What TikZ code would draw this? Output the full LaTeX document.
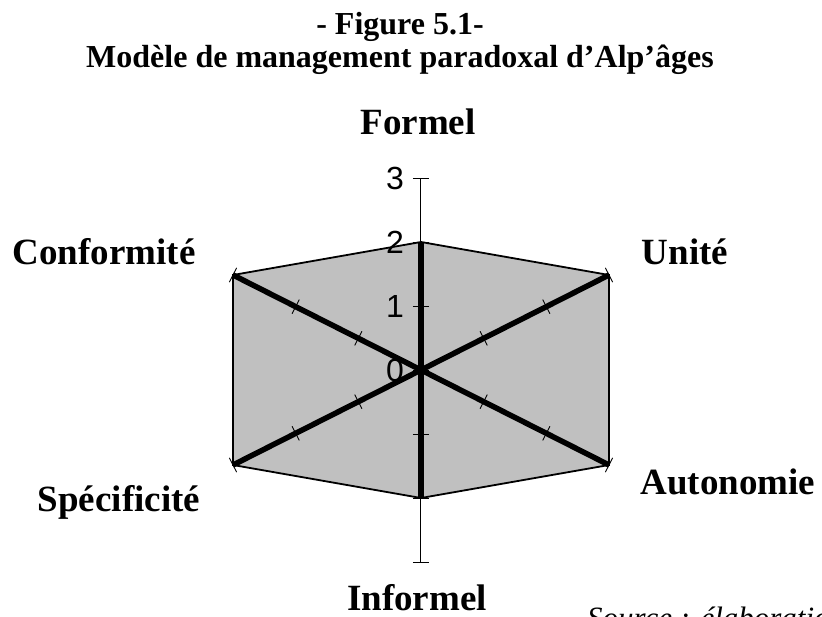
\documentclass[tikz,border=0pt]{standalone}
\usepackage{fontspec}
\setmainfont{Liberation Serif}
\newfontfamily\axisfont{Liberation Sans}
\usetikzlibrary{calc}
\definecolor{radargray}{RGB}{192,192,192}

\begin{document}
\begin{tikzpicture}[x=1pt,y=1pt,
    lbl/.style={font=\fontsize{37}{40}\selectfont\bfseries, anchor=base, inner sep=0pt},
    ttl/.style={font=\fontsize{32}{34}\selectfont\bfseries, anchor=base, inner sep=0pt},
    num/.style={font=\axisfont\fontsize{32}{34}\selectfont, anchor=east, inner sep=0pt},
    spoke/.style={line width=5.5pt},
    tickmark/.style={line width=0.9pt}]
  \useasboundingbox (-421,-246) rectangle (401,370);
  % points of the radar
  \coordinate (o) at (0,0);
  \coordinate (formel) at (0,128);
  \coordinate (unite) at (188,95);
  \coordinate (autonomie) at (188,-95);
  \coordinate (informel) at (0,-128);
  \coordinate (specificite) at (-188,-95);
  \coordinate (conformite) at (-188,95);
  \coordinate (axtop) at (0,192);
  \coordinate (axbot) at (0,-192);
  \filldraw[fill=radargray, line width=1.8pt] (formel) -- (unite) -- (autonomie)
    -- (informel) -- (specificite) -- (conformite) -- cycle;
  % axes
  \draw[line width=1pt] (axbot) -- (axtop);
  \draw[spoke] (formel) -- (informel);
  \draw[spoke] (conformite) -- (autonomie);
  \draw[spoke] (specificite) -- (unite);
  \foreach \v in {-3,...,3}
    \draw[tickmark] (-8,64*\v) -- (8,64*\v);
  \foreach \v in {1,2,3}
    \foreach \sx/\sy in {1/1,1/-1,-1/1,-1/-1}
      \draw[tickmark] ({(\sx)*62.67*\v-(\sy)*3.6},{(\sy)*31.67*\v+(\sx)*7.1})
        -- ({(\sx)*62.67*\v+(\sy)*3.6},{(\sy)*31.67*\v-(\sx)*7.1});
  \foreach \v in {0,...,3}
    \node[num] (n\v) at (-17,64*\v) {\v};
  % labels
  \node[ttl] (fig) at (-21,335) {- Figure 5.1-};
  \node[ttl] (titre) at (-21,302) {Modèle de management paradoxal d’Alp’âges};
  \node[lbl] (formelL) at (-3,235) {Formel};
  \node[lbl] (conformiteL) at (-317,105) {Conformité};
  \node[lbl] (uniteL) at (264,105) {Unité};
  \node[lbl] (specificiteL) at (-302,-141) {Spécificité};
  \node[lbl] (autonomieL) at (307,-124) {Autonomie};
  \node[lbl] (informelL) at (-4,-240) {Informel};
  \node[font=\fontsize{31}{34}\selectfont\itshape, anchor=base west, inner sep=0pt]
    (source) at (166,-258) {Source : élaboration};
\end{tikzpicture}
\end{document}
